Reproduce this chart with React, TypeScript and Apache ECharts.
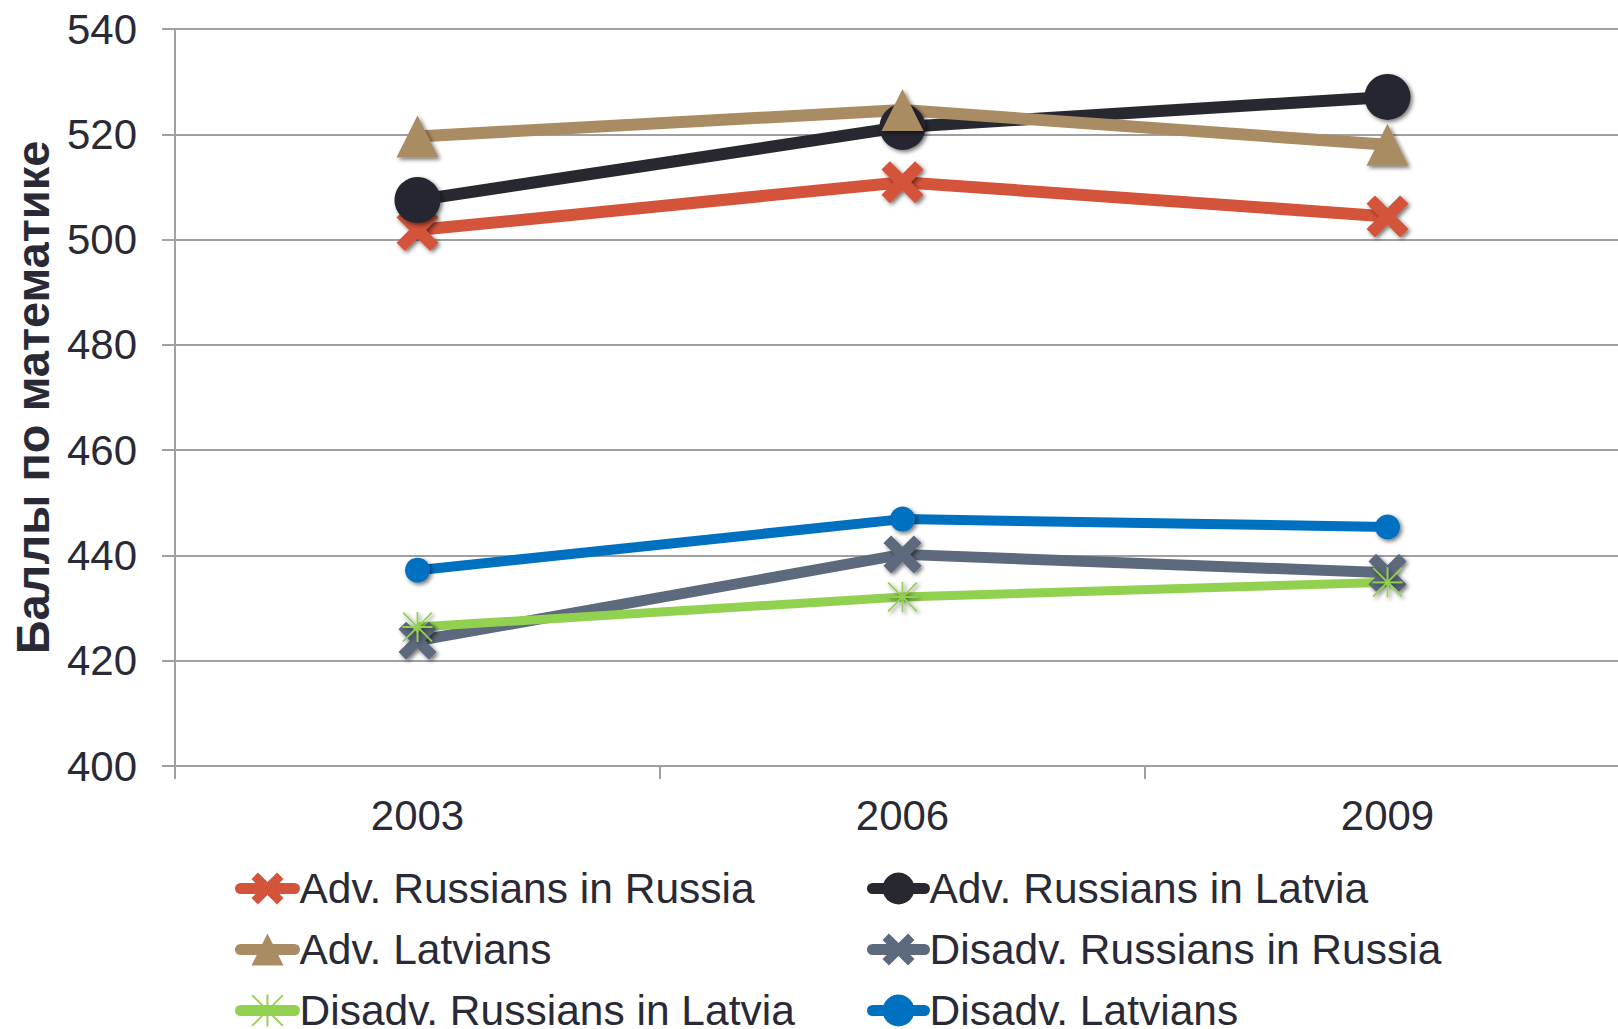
import React, { useEffect, useRef } from "react";
import * as echarts from "echarts";

const years = ["2003", "2006", "2009"];
const advRussiansRussia = [501.8, 510.9, 504.4];
const advRussiansLatvia = [507.5, 521.4, 527.1];
const advLatvians = [519.6, 524.6, 518.0];
const disadvRussiansRussia = [423.8, 440.2, 436.7];
const disadvRussiansLatvia = [426.4, 432.1, 434.9];
const disadvLatvians = [437.2, 446.9, 445.4];
const yTicks = { min: 400, max: 540, interval: 20 };
const yTitle = "Баллы по математике";

const X_PATH =
  "path://M0,20 L20,0 L50,30 L80,0 L100,20 L70,50 L100,80 L80,100 L50,70 L20,100 L0,80 L30,50 Z";
const STAR_PATH =
  "path://M47,0 L53,0 L53,100 L47,100 Z M0,47 L100,47 L100,53 L0,53 Z M4,0 L100,96 L96,100 L0,4 Z M96,0 L100,4 L4,100 L0,96 Z";

const TEXT = "#2a2a36";
const GRIDC = "#a0a0a0";
const FONT = "'Liberation Sans', Arial, sans-serif";

const shadow = {
  shadowBlur: 4,
  shadowColor: "rgba(0,0,0,0.55)",
  shadowOffsetX: 2,
  shadowOffsetY: 2,
};

function mk(name: string, data: number[], color: string, symbol: string, size: number, width: number) {
  return {
    name,
    type: "line",
    data,
    symbol,
    symbolSize: size,
    showSymbol: true,
    lineStyle: { color, width },
    itemStyle: { color, ...shadow },
    emphasis: { disabled: true },
  };
}

// legend placement: [name, left, rowCenterY, iconWidth]
const legendSlots: [string, number, number, number][] = [
  ["Adv. Russians in Russia", 235, 888, 54],
  ["Adv. Russians in Latvia", 867, 888, 52],
  ["Adv. Latvians", 235, 949, 54],
  ["Disadv. Russians in Russia", 867, 949, 52],
  ["Disadv. Russians in Latvia", 235, 1010, 54],
  ["Disadv. Latvians", 867, 1010, 52],
];

export default function App() {
  const ref = useRef<HTMLDivElement>(null);
  useEffect(() => {
    if (!ref.current) return;
    const chart = echarts.init(ref.current, null, { renderer: "svg" });
    chart.setOption({
      animation: false,
      backgroundColor: "#ffffff",
      textStyle: { fontFamily: FONT },
      grid: { left: 175, top: 29, width: 1455, height: 737, containLabel: false },
      legend: legendSlots.map(([name, left, cy, w]) => ({
        orient: "horizontal",
        left,
        top: cy - 21,
        padding: 0,
        itemWidth: w,
        itemHeight: 40,
        selectedMode: false,
        lineStyle: { width: 11, cap: "round" },
        textStyle: { fontSize: 42.5, color: TEXT, fontFamily: FONT, lineHeight: 42 },
        data: [name],
      })),
      xAxis: {
        type: "category",
        data: years,
        boundaryGap: true,
        axisLine: { lineStyle: { color: GRIDC, width: 2 } },
        axisTick: { show: true, length: 13, lineStyle: { color: GRIDC, width: 2 } },
        axisLabel: { fontSize: 42, color: TEXT, margin: 28, fontFamily: FONT },
        splitLine: { show: false },
      },
      yAxis: {
        type: "value",
        min: yTicks.min,
        max: yTicks.max,
        interval: yTicks.interval,
        name: yTitle,
        nameLocation: "middle",
        nameGap: 108,
        nameTextStyle: { fontSize: 47, fontWeight: "bold", color: TEXT, fontFamily: FONT },
        axisLine: { show: true, lineStyle: { color: GRIDC, width: 2 } },
        axisTick: { show: true, length: 13, lineStyle: { color: GRIDC, width: 2 } },
        axisLabel: { fontSize: 42, color: TEXT, margin: 38, fontFamily: FONT },
        splitLine: { show: true, lineStyle: { color: GRIDC, width: 2 } },
      },
      series: [
        mk("Adv. Russians in Russia", advRussiansRussia, "#d4533b", X_PATH, 42, 12),
        mk("Adv. Russians in Latvia", advRussiansLatvia, "#282830", "circle", 46, 12),
        mk("Adv. Latvians", advLatvians, "#aa8c64", "triangle", 42, 12),
        mk("Disadv. Russians in Russia", disadvRussiansRussia, "#5d697c", X_PATH, 38, 11),
        mk("Disadv. Russians in Latvia", disadvRussiansLatvia, "#92d050", STAR_PATH, 30, 9),
        mk("Disadv. Latvians", disadvLatvians, "#0070c0", "circle", 25, 10),
      ],
    });
    return () => chart.dispose();
  }, []);
  return (
    <div style={{ position: "absolute", left: 0, top: 0, width: 1618, height: 1029, overflow: "hidden" }}>
      <div ref={ref} style={{ width: 1660, height: 1029 }} />
    </div>
  );
}
